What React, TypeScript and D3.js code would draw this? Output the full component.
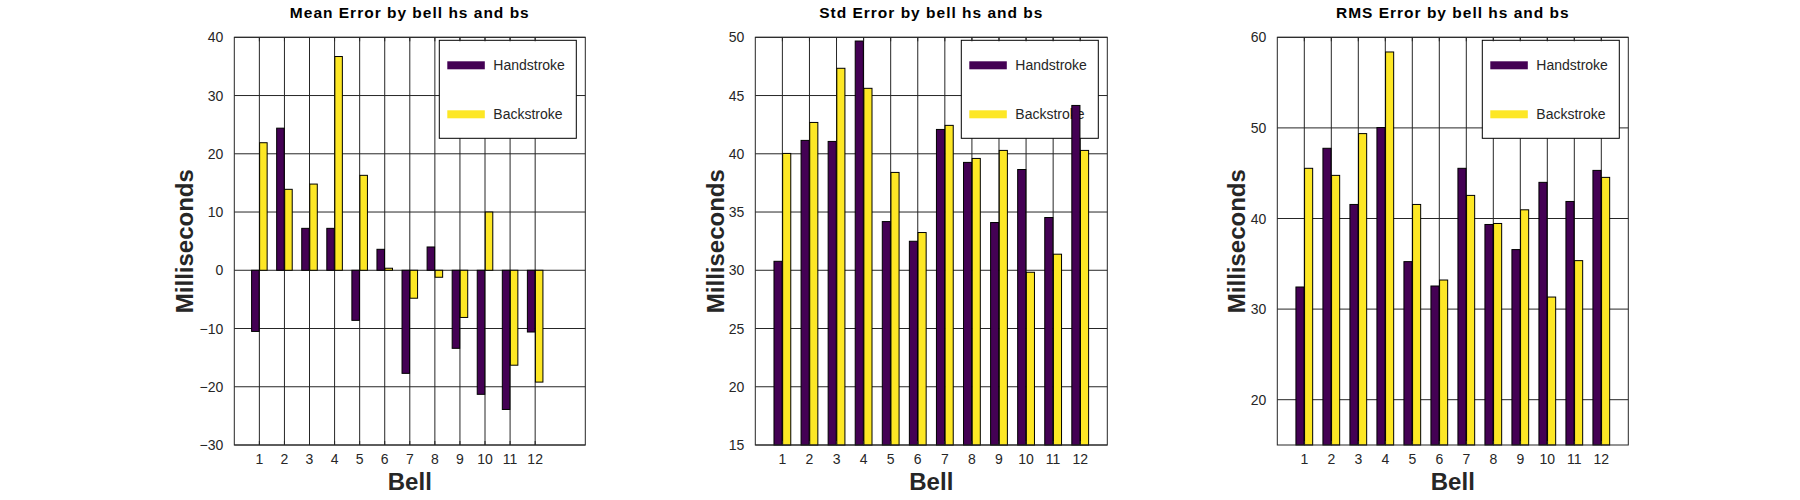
import React from "react";
import * as d3 from "d3";

const bells = [1, 2, 3, 4, 5, 6, 7, 8, 9, 10, 11, 12];
const seriesNames = ["Handstroke", "Backstroke"];
const seriesColors = ["#440154", "#FDE725"];

const meanHS = [-10.5, 24.4, 7.2, 7.2, -8.6, 3.6, -17.7, 4.0, -13.4, -21.3, -23.9, -10.6];
const meanBS = [21.9, 13.9, 14.8, 36.7, 16.3, 0.35, -4.8, -1.2, -8.1, 10.0, -16.3, -19.2];
const stdHS = [30.77, 41.15, 41.06, 49.68, 34.18, 32.49, 42.09, 39.26, 34.1, 38.65, 34.53, 44.15];
const stdBS = [40.03, 42.69, 47.34, 45.62, 38.4, 33.24, 42.44, 39.6, 40.29, 29.83, 31.38, 40.29];
const rmsHS = [32.44, 47.75, 41.55, 50.04, 35.24, 32.55, 45.54, 39.34, 36.57, 43.99, 41.88, 45.31];
const rmsBS = [45.54, 44.76, 49.37, 58.38, 41.55, 33.21, 42.55, 39.45, 40.96, 31.33, 35.35, 44.54];

const titles = ["Mean Error by bell hs and bs", "Std Error by bell hs and bs", "RMS Error by bell hs and bs"];
const meanTicks = [-30, -20, -10, 0, 10, 20, 30, 40];
const stdTicks = [15, 20, 25, 30, 35, 40, 45, 50];
const rmsTicks = [20, 30, 40, 50, 60];

const FONT = "'Liberation Sans', Arial, Helvetica, sans-serif";
const TEXT = "#262626";
const GRID = "#262626";

type PanelSpec = {
  title: string;
  hs: number[];
  bs: number[];
  left: number;
  right: number;
  xMax: number;
  yDomain: [number, number];
  yTicks: number[];
  yLabelOffset: number;
};

const TOP = 37.3;
const BOTTOM = 445;

const panels: PanelSpec[] = [
  { title: titles[0], hs: meanHS, bs: meanBS, left: 234.3, right: 585.3, xMax: 14, yDomain: [-30, 40], yTicks: meanTicks, yLabelOffset: 41 },
  { title: titles[1], hs: stdHS, bs: stdBS, left: 755.3, right: 1107.3, xMax: 13, yDomain: [15, 50], yTicks: stdTicks, yLabelOffset: 31 },
  { title: titles[2], hs: rmsHS, bs: rmsBS, left: 1277.3, right: 1628.3, xMax: 13, yDomain: [15, 60], yTicks: rmsTicks, yLabelOffset: 32 },
];

const fmt = (v: number) => (v < 0 ? "\u2212" + Math.abs(v) : String(v));

function Panel({ p }: { p: PanelSpec }) {
  const x = d3.scaleLinear().domain([0, p.xMax]).range([p.left, p.right]);
  const y = d3.scaleLinear().domain(p.yDomain).range([BOTTOM, TOP]);
  const barW = 0.3;
  const offsets = [-0.16, 0.16];
  const base = Math.max(p.yDomain[0], Math.min(p.yDomain[1], 0));
  const cx = (p.left + p.right) / 2;
  const cy = (TOP + BOTTOM) / 2;
  const legW = 137;
  const legH = 98;
  const legX = p.right - 9 - legW;
  const legY = TOP + 3;
  const tickLen = 4;
  const series = [p.hs, p.bs];
  return (
    <g>
      {/* grid */}
      {bells.map((b) => (
        <line key={"vg" + b} x1={x(b)} x2={x(b)} y1={TOP} y2={BOTTOM} stroke={GRID} strokeWidth={1} />
      ))}
      {p.yTicks.map((t) => (
        <line key={"hg" + t} x1={p.left} x2={p.right} y1={y(t)} y2={y(t)} stroke={GRID} strokeWidth={1} />
      ))}
      {/* legend (under the bars) */}
      <rect x={legX} y={legY} width={legW} height={legH} fill="#fff" stroke="#000" strokeWidth={1} />
      {seriesNames.map((n, i) => {
        const yy = legY + 25 + i * 49;
        return (
          <g key={n}>
            <rect x={legX + 8} y={yy - 4} width={37.5} height={8} fill={seriesColors[i]} />
            <text x={legX + 54} y={yy + 5} fontFamily={FONT} fontSize={14} fill={TEXT}>
              {n}
            </text>
          </g>
        );
      })}
      {/* bars */}
      {series.map((vals, si) =>
        vals.map((v, i) => {
          const xc = x(bells[i] + offsets[si]);
          const w = x(barW) - x(0);
          const y0 = y(base);
          const y1 = y(v);
          return (
            <rect
              key={si + "-" + i}
              x={xc - w / 2}
              y={Math.min(y0, y1)}
              width={w}
              height={Math.abs(y1 - y0)}
              fill={seriesColors[si]}
              stroke="#000"
              strokeWidth={1}
            />
          );
        })
      )}
      {/* axes box */}
      <rect x={p.left} y={TOP} width={p.right - p.left} height={BOTTOM - TOP} fill="none" stroke={GRID} strokeWidth={1} />
      {/* tick marks */}
      {bells.map((b) => (
        <g key={"tk" + b}>
          <line x1={x(b)} x2={x(b)} y1={TOP} y2={TOP + tickLen} stroke={GRID} />
          <line x1={x(b)} x2={x(b)} y1={BOTTOM} y2={BOTTOM - tickLen} stroke={GRID} />
        </g>
      ))}
      {/* tick labels */}
      {bells.map((b) => (
        <text key={"xl" + b} x={x(b)} y={BOTTOM + 19.3} textAnchor="middle" fontFamily={FONT} fontSize={14} fill={TEXT}>
          {b}
        </text>
      ))}
      {p.yTicks.map((t) => (
        <text key={"yl" + t} x={p.left - 11} y={y(t) + 5} textAnchor="end" fontFamily={FONT} fontSize={14} fill={TEXT}>
          {fmt(t)}
        </text>
      ))}
      {/* title */}
      <text x={cx} y={18} textAnchor="middle" fontFamily={FONT} fontSize={15.5} fontWeight="bold" letterSpacing={1} fill="#000">
        {p.title}
      </text>
      {/* axis labels */}
      <text x={cx} y={490} textAnchor="middle" fontFamily={FONT} fontSize={24} fontWeight="bold" fill={TEXT}>
        Bell
      </text>
      <text
        transform={`translate(${p.left - p.yLabelOffset},${cy}) rotate(-90)`}
        textAnchor="middle"
        fontFamily={FONT}
        fontSize={24}
        fontWeight="bold"
        fill={TEXT}
      >
        Milliseconds
      </text>
    </g>
  );
}

export default function App() {
  return (
    <svg width={1800} height={500} style={{ position: "absolute", left: 0, top: 0, background: "#fff" }}>
      <rect x={0} y={0} width={1800} height={500} fill="#fff" />
      {panels.map((p, i) => (
        <Panel key={i} p={p} />
      ))}
    </svg>
  );
}
